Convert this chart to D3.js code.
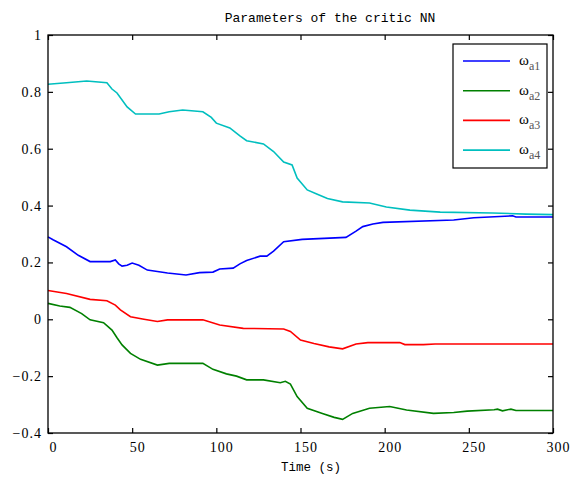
<!DOCTYPE html>
<html>
<head>
<meta charset="utf-8">
<script src="https://cdn.jsdelivr.net/npm/d3@7"></script>
<style>
  body { margin: 0; background: #fff; }
  text { font-family: "Liberation Mono", monospace; }
</style>
</head>
<body>
<div id="chart"></div>
<script>
// values: [time, weight]
var wa1 = [[0,0.29],[3,0.28],[11,0.255],[18,0.225],[25,0.203],[37,0.203],[40,0.209],[42,0.195],[44,0.187],[47,0.19],[50,0.198],[54,0.19],[59,0.173],[65,0.168],[71,0.163],[82,0.156],[90,0.164],[98,0.166],[102,0.177],[110,0.18],[114,0.195],[118,0.207],[126,0.222],[130,0.222],[134,0.24],[140,0.273],[151,0.281],[177,0.288],[183,0.31],[187,0.326],[193,0.335],[199,0.341],[241,0.349],[253,0.357],[276,0.364],[278,0.36],[300,0.36]];
var wa2 = [[0,0.056],[7,0.047],[13,0.042],[20,0.02],[25,-0.002],[33,-0.012],[38,-0.038],[41,-0.065],[44,-0.09],[49,-0.12],[55,-0.141],[65,-0.161],[72,-0.155],[92,-0.155],[98,-0.176],[106,-0.192],[112,-0.2],[118,-0.213],[128,-0.213],[138,-0.223],[141,-0.218],[144,-0.228],[148,-0.272],[154,-0.313],[163,-0.331],[170,-0.345],[175,-0.352],[181,-0.331],[191,-0.313],[203,-0.307],[213,-0.319],[229,-0.331],[241,-0.328],[249,-0.323],[265,-0.318],[267,-0.316],[270,-0.322],[275,-0.316],[278,-0.321],[300,-0.321]];
var wa3 = [[0,0.101],[11,0.091],[25,0.07],[35,0.065],[40,0.05],[43,0.033],[49,0.009],[57,0],[65,-0.008],[71,-0.002],[92,-0.002],[102,-0.02],[116,-0.032],[140,-0.034],[144,-0.043],[150,-0.073],[158,-0.085],[167,-0.097],[175,-0.104],[183,-0.087],[190,-0.082],[209,-0.082],[212,-0.089],[223,-0.089],[230,-0.087],[300,-0.087]];
var wa4 = [[0,0.827],[11,0.832],[23,0.838],[35,0.832],[38,0.81],[41,0.796],[47,0.747],[52,0.722],[66,0.722],[72,0.73],[80,0.736],[92,0.73],[97,0.71],[100,0.69],[108,0.673],[114,0.645],[118,0.628],[128,0.617],[134,0.59],[140,0.553],[145,0.543],[148,0.497],[154,0.455],[160,0.44],[166,0.425],[175,0.413],[191,0.409],[201,0.395],[215,0.384],[233,0.377],[264,0.374],[284,0.37],[300,0.368]];

var seriesNames = ["a1", "a2", "a3", "a4"];
var seriesColors = ["#0000ff", "#008000", "#ff0000", "#00bfbf"];
var xTicks = [0, 50, 100, 150, 200, 250, 300];
var yTicks = [-0.4, -0.2, 0, 0.2, 0.4, 0.6, 0.8, 1];

var w = 573, h = 478;
var mLeft = 48, mRight = 553, mTop = 35, mBottom = 433;

var svg = d3.select("#chart")
  .append("svg")
  .attr("width", w)
  .attr("height", h);

var x = d3.scaleLinear().domain([0, 300]).range([mLeft, mRight]);
var y = d3.scaleLinear().domain([-0.4, 1]).range([mBottom, mTop]);

function fmt(d) { return d == 0 ? "0" : d3.format("")(d).replace("-", "\u2212"); }

// axes, ticks inward on all four sides
var xAx = svg.append("g")
  .attr("transform", "translate(0," + mBottom + ")")
  .call(d3.axisBottom(x).tickValues(xTicks).tickSizeInner(-5).tickSizeOuter(0).tickPadding(9).tickFormat(fmt));
xAx.selectAll(".tick text").attr("dx", 5);
svg.append("g")
  .attr("transform", "translate(0," + mTop + ")")
  .call(d3.axisTop(x).tickValues(xTicks).tickSizeInner(-5).tickSizeOuter(0).tickFormat(""));
svg.append("g")
  .attr("transform", "translate(" + mLeft + ",0)")
  .call(d3.axisLeft(y).tickValues(yTicks).tickSizeInner(-5).tickSizeOuter(0).tickPadding(6).tickFormat(fmt));
svg.append("g")
  .attr("transform", "translate(" + mRight + ",0)")
  .call(d3.axisRight(y).tickValues(yTicks).tickSizeInner(-5).tickSizeOuter(0).tickFormat(""));

svg.selectAll(".domain").remove();
svg.selectAll(".tick line").attr("stroke", "#000").attr("stroke-width", 1.2);
svg.selectAll(".tick text").attr("font-size", 14).attr("fill", "#000")
  .attr("letter-spacing", 1)
  .style("font-family", "Liberation Serif");

// lines
var line = d3.line()
  .x(function(d) { return x(d[0]); })
  .y(function(d) { return y(d[1]); });

var allSeries = [wa1, wa2, wa3, wa4];
svg.selectAll("path.series")
  .data(allSeries)
  .enter()
  .append("path")
  .attr("class", "series")
  .attr("fill", "none")
  .attr("stroke", function(d, i) { return seriesColors[i]; })
  .attr("stroke-width", 1.6)
  .attr("d", line);

// frame
svg.append("rect")
  .attr("x", mLeft).attr("y", mTop)
  .attr("width", mRight - mLeft).attr("height", mBottom - mTop)
  .attr("fill", "none").attr("stroke", "#000").attr("stroke-width", 1.3);

// title and label
svg.append("text")
  .attr("x", 330).attr("y", 22)
  .attr("text-anchor", "middle")
  .attr("font-size", 13)
  .text("Parameters of the critic NN");
svg.append("text")
  .attr("x", 311).attr("y", 471)
  .attr("text-anchor", "middle")
  .attr("font-size", 12.5)
  .text("Time (s)");

// legend
var lg = svg.append("g");
lg.append("rect")
  .attr("x", 453).attr("y", 44)
  .attr("width", 94).attr("height", 124)
  .attr("fill", "#fff").attr("stroke", "#000").attr("stroke-width", 1.2);

var rows = lg.selectAll("g.row")
  .data(seriesNames)
  .enter()
  .append("g")
  .attr("class", "row")
  .attr("transform", function(d, i) { return "translate(0," + (61 + i * 29.7) + ")"; });

rows.append("line")
  .attr("x1", 463).attr("x2", 510)
  .attr("stroke", function(d, i) { return seriesColors[i]; })
  .attr("stroke-width", 1.6);

var lbl = rows.append("text")
  .attr("x", 519).attr("y", 4)
  .attr("fill", "#000")
  .style("font-family", "Liberation Serif");
lbl.append("tspan").attr("font-size", 15).text("\u03c9");
lbl.append("tspan").attr("font-size", 12).attr("dy", 5).attr("fill", "#555")
  .style("font-family", "Liberation Serif").text(function(d) { return d; });
</script>
</body>
</html>
